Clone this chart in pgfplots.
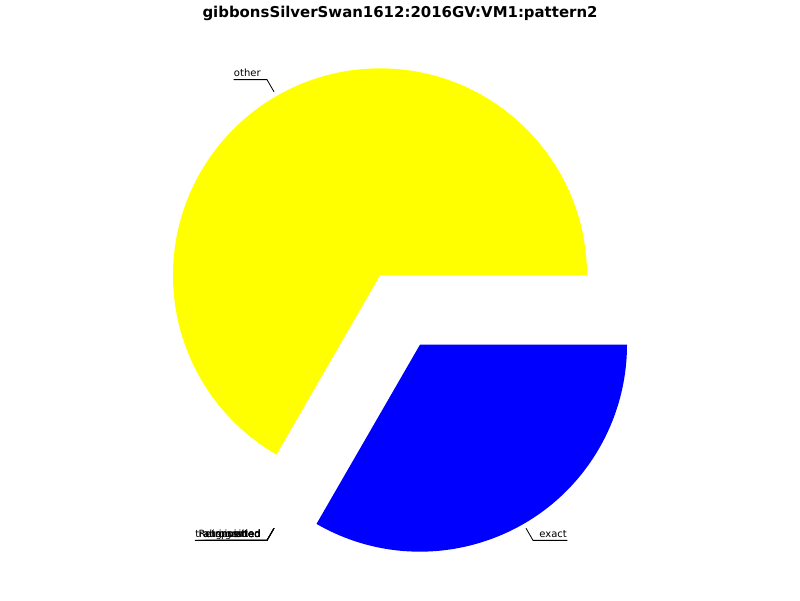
\documentclass[border=0pt]{standalone}
\usepackage{pgfplots}
\usepackage{pgfplotstable}
\usepackage{fontspec}
\setmainfont{DejaVu Sans}
\pgfplotsset{compat=1.18}
\definecolor{pyellow}{RGB}{255,255,0}
\definecolor{pblue}{RGB}{0,0,255}

\pgfplotstableread[col sep=comma]{
label,value,color
other,2,pyellow
transposition,0,red
Retrograded,0,green
augmented,0,cyan
diminished,0,magenta
inverted,0,orange
exact,1,pblue
}\piedata

\newcommand\labfont{\fontsize{7.2}{8.6}\selectfont}
\newcommand\piecmds{}
\pgfplotstablegetrowsof{\piedata}
\pgfmathtruncatemacro\lastrow{\pgfplotsretval-1}
\def\total{0}
\pgfplotsforeachungrouped \i in {0,...,\lastrow}{%
  \pgfplotstablegetelem{\i}{value}\of\piedata
  \pgfmathsetmacro\total{\total+\pgfplotsretval}}
\def\cum{0}
\pgfplotsforeachungrouped \i in {0,...,\lastrow}{%
  \pgfplotstablegetelem{\i}{value}\of\piedata \let\v\pgfplotsretval
  \pgfplotstablegetelem{\i}{label}\of\piedata \let\lab\pgfplotsretval
  \pgfplotstablegetelem{\i}{color}\of\piedata \let\col\pgfplotsretval
  \pgfmathsetmacro\ao{360*\cum/\total}%
  \pgfmathsetmacro\cum{\cum+\v}%
  \pgfmathsetmacro\ai{360*\cum/\total}%
  \pgfmathsetmacro\am{(\ao+\ai)/2}%
  \pgfmathsetmacro\cs{cos(\am)}%
  \pgfmathsetmacro\sn{sin(\am)}%
  \pgfmathsetmacro\cx{400+40*\cs}%
  \pgfmathsetmacro\cy{290+40*\sn}%
  \pgfmathsetmacro\px{\cx+212*\cs}%
  \pgfmathsetmacro\py{\cy+212*\sn}%
  \pgfmathsetmacro\qx{\cx+226*\cs}%
  \pgfmathsetmacro\qy{\cy+226*\sn}%
  \ifdim\v pt>0pt
    \edef\piecmds{\unexpanded\expandafter{\piecmds}%
      \noexpand\fill[\col] (axis cs:\cx,\cy) -- ++(\ao:149.04pt) arc[start angle=\ao, end angle=\ai, radius=149.04pt] -- cycle;}%
  \fi
  \ifdim\cs pt<0pt
    \edef\piecmds{\unexpanded\expandafter{\piecmds}%
      \noexpand\draw[black, line width=0.6pt] (axis cs:\px,\py) -- (axis cs:\qx,\qy) coordinate (b\i)
        node[anchor=base east, xshift=-4.3pt, yshift=2.2pt, inner sep=0pt, font=\noexpand\labfont] (l\i) {\lab}
        -- (b\i -| l\i.west);}%
  \else
    \edef\piecmds{\unexpanded\expandafter{\piecmds}%
      \noexpand\draw[black, line width=0.6pt] (axis cs:\px,\py) -- (axis cs:\qx,\qy) coordinate (b\i)
        node[anchor=base west, xshift=4.3pt, yshift=2.2pt, inner sep=0pt, font=\noexpand\labfont] (l\i) {\lab}
        -- (b\i -| l\i.east);}%
  \fi
}

\begin{document}
\begin{tikzpicture}
\begin{axis}[
  width=576pt, height=432pt, scale only axis,
  xmin=0, xmax=800, ymin=0, ymax=600,
  hide axis, clip=false]
\path (axis cs:0,0) rectangle (axis cs:800,600);
\piecmds
\node[font=\bfseries\fontsize{10.75}{13}\selectfont] at (axis cs:400,586.5) {gibbonsSilverSwan1612:2016GV:VM1:pattern2};
\end{axis}
\end{tikzpicture}
\end{document}
